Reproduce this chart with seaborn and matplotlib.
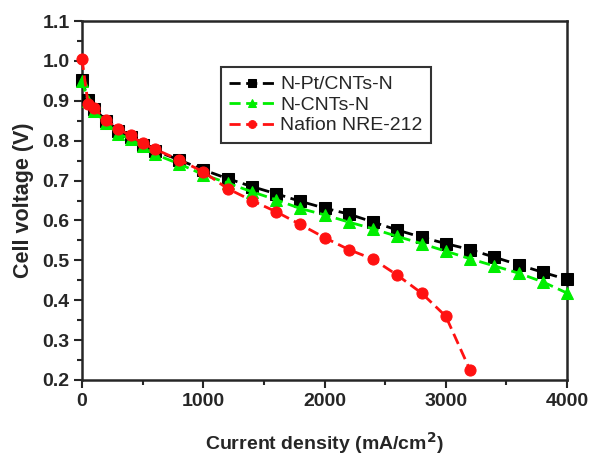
import matplotlib
matplotlib.use("Agg")
import matplotlib.pyplot as plt
import seaborn as sns
import pandas as pd
from matplotlib.ticker import MultipleLocator

sns.set_style("ticks")
plt.rcParams['font.family'] = ['Liberation Sans', 'DejaVu Sans']

x_pt = [0, 50, 100, 200, 300, 400, 500, 600, 800, 1000, 1200, 1400, 1600, 1800,
        2000, 2200, 2400, 2600, 2800, 3000, 3200, 3400, 3600, 3800, 4000]
v_pt = [0.953, 0.903, 0.88, 0.85, 0.825, 0.808, 0.79, 0.775, 0.752, 0.727, 0.705, 0.685,
        0.667, 0.648, 0.631, 0.616, 0.596, 0.576, 0.558, 0.542, 0.527, 0.508, 0.489, 0.47, 0.452]

x_cnt = x_pt
v_cnt = [0.95, 0.9, 0.875, 0.844, 0.817, 0.804, 0.786, 0.766, 0.742, 0.715, 0.694, 0.672,
         0.652, 0.63, 0.614, 0.596, 0.579, 0.56, 0.542, 0.523, 0.504, 0.486, 0.468, 0.446, 0.418]

x_naf = [0, 50, 100, 200, 300, 400, 500, 600, 800, 1000, 1200, 1400, 1600, 1800,
         2000, 2200, 2400, 2600, 2800, 3000, 3200]
v_naf = [1.005, 0.893, 0.882, 0.852, 0.829, 0.813, 0.793, 0.779, 0.752, 0.722, 0.68, 0.65,
         0.622, 0.59, 0.557, 0.527, 0.503, 0.463, 0.418, 0.36, 0.225]

labels = ["N-Pt/CNTs-N", "N-CNTs-N", "Nafion NRE-212"]
colors = ["black", "#00ee00", "#ff1111"]
markers = ["s", "^", "o"]

fig = plt.figure(figsize=(5.89, 4.57), dpi=100)
ax = fig.add_axes([82/589, 1 - 380/457, (567-82)/589, (380-21)/457])

for xs, vs, lab, c, m in zip([x_pt, x_cnt, x_naf], [v_pt, v_cnt, v_naf], labels, colors, markers):
    df = pd.DataFrame({"x": xs, "v": vs})
    sns.lineplot(data=df, x="x", y="v", ax=ax, color=c, marker=m, markersize=8,
                 markeredgecolor=c, linewidth=2, linestyle=(0, (4, 2)), label=lab,
                 clip_on=False, zorder=3)

ax.set_xlim(0, 4000)
ax.set_ylim(0.2, 1.1)
ax.xaxis.set_major_locator(MultipleLocator(1000))
ax.xaxis.set_minor_locator(MultipleLocator(500))
ax.yaxis.set_major_locator(MultipleLocator(0.1))
ax.yaxis.set_minor_locator(MultipleLocator(0.05))
ax.tick_params(which="major", direction="out", length=6, width=1.5, labelsize=14, pad=3)
ax.tick_params(which="minor", direction="out", length=3.5, width=1.5)
ax.tick_params(top=False, right=False)
for lab in ax.get_xticklabels() + ax.get_yticklabels():
    lab.set_fontweight("bold")
for s in ax.spines.values():
    s.set_linewidth(1.8)
    s.set_visible(True)

ax.set_xlabel("Current density (mA/cm$^\\mathbf{2}$)", fontsize=14, fontweight="bold", labelpad=15)
ax.set_ylabel("Cell voltage (V)", fontsize=15.5, fontweight="bold", labelpad=6)

leg = ax.legend(loc="upper left", bbox_to_anchor=(0.286, 0.872), fontsize=14, frameon=True,
                fancybox=False, edgecolor="black", handlelength=2.3, borderpad=0.45,
                labelspacing=0.15, handletextpad=0.3, markerscale=0.7, borderaxespad=0)
leg.get_frame().set_linewidth(1.5)

fig.savefig("out.png", dpi=100)
